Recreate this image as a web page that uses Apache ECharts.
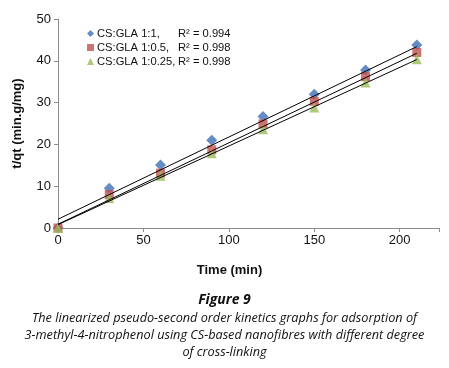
<!DOCTYPE html>
<html>
<head>
<meta charset="utf-8">
<script src="https://cdn.jsdelivr.net/npm/echarts@6/dist/echarts.min.js"></script>
<style>
  html, body { margin: 0; padding: 0; background: #fff; }
  #main { width: 449px; height: 368px; }
</style>
</head>
<body>
<div id="main"></div>
<script>
// time points (min)
var times = [0, 30, 60, 90, 120, 150, 180, 210];
// t/qt values
var gla1 = [0, 9.5, 15.1, 21.0, 26.7, 32.0, 37.8, 43.8];
var gla05 = [0, 8.0, 13.1, 18.7, 24.9, 30.3, 36.2, 42.0];
var gla025 = [0, 7.2, 12.5, 17.9, 23.6, 28.8, 34.8, 40.4];
// linear trend lines: [start, end]
var trend1 = [[0, 2.1], [210, 43.4]];
var trend05 = [[0, 0.9], [210, 41.8]];
var trend025 = [[0, 0.8], [210, 40.3]];
var names = ['CS:GLA 1:1', 'CS:GLA 1:0.5', 'CS:GLA 1:0.25'];
var r2 = ['0.994', '0.998', '0.998'];
var xTicks = [0, 50, 100, 150, 200];
var captionLines = [
    'The linearized pseudo-second order kinetics graphs for adsorption of',
    '3-methyl-4-nitrophenol using CS-based nanofibres with different degree',
    'of cross-linking'
];

function pairs(y) {
    return times.map(function (t, i) { return [t, y[i]]; });
}

var chart = echarts.init(document.getElementById('main'));

var graphics = [
    {
        type: 'text', left: 'center', top: 293,
        style: { text: 'Figure 9', font: 'italic bold 14px "Open Sans", sans-serif', fill: '#111' }
    }
];
captionLines.forEach(function (line, i) {
    graphics.push({
        type: 'text', left: 'center', top: 312 + i * 17,
        style: { text: line, font: 'italic 12.7px "Open Sans", sans-serif', fill: '#111' }
    });
});

var option = {
    animation: false,
    color: ['#3f70b6', '#c0504d', '#9bbb59'],
    textStyle: { fontFamily: 'Liberation Sans, Arial, sans-serif' },
    grid: { left: 58, right: 10, top: 19, bottom: 140 },
    legend: {
        orient: 'vertical',
        left: 82,
        top: 23,
        itemWidth: 7,
        itemHeight: 7,
        itemGap: 3,
        data: [
            { name: names[0], icon: 'diamond' },
            { name: names[1], icon: 'rect' },
            { name: names[2], icon: 'triangle' }
        ],
        formatter: function (n) {
            var i = names.indexOf(n);
            return '{a|' + n + ',}{b|R² = ' + r2[i] + '}';
        },
        textStyle: {
            fontSize: 11.2,
            color: '#111',
            padding: [0, 0, 0, -2],
            rich: {
                a: { width: 81, fontSize: 11.2, color: '#111' },
                b: { fontSize: 11.2, color: '#111' }
            }
        }
    },
    xAxis: {
        type: 'value',
        min: 0,
        max: 223,
        interval: 50,
        name: 'Time (min)',
        nameLocation: 'middle',
        nameGap: 36,
        nameTextStyle: { fontSize: 13, fontWeight: 'bold', color: '#111', padding: [0, 38, 0, 0] },
        axisLine: { lineStyle: { color: '#8c8c8c', width: 1 } },
        axisTick: { show: true, length: 4, lineStyle: { color: '#8c8c8c' } },
        axisLabel: {
            fontSize: 13,
            color: '#111',
            margin: 6,
            formatter: function (v) { return xTicks.indexOf(v) >= 0 ? v : ''; }
        },
        splitLine: { show: false }
    },
    yAxis: {
        type: 'value',
        min: 0,
        max: 50,
        interval: 10,
        name: 't/qt (min.g/mg)',
        nameLocation: 'middle',
        nameRotate: 90,
        nameGap: 34,
        nameTextStyle: { fontSize: 13, fontWeight: 'bold', color: '#111' },
        axisLine: { show: true, lineStyle: { color: '#8c8c8c', width: 1 } },
        axisTick: { show: true, length: 4, lineStyle: { color: '#8c8c8c' } },
        axisLabel: { fontSize: 13, color: '#111', margin: 7 },
        splitLine: { show: false }
    },
    series: [
        { name: names[0], type: 'scatter', symbol: 'diamond', symbolSize: 11, data: pairs(gla1), z: 2 },
        { name: names[1], type: 'scatter', symbol: 'rect', symbolSize: 9, data: pairs(gla05), z: 3 },
        { name: names[2], type: 'scatter', symbol: 'triangle', symbolSize: 10, data: pairs(gla025), z: 4 },
        { type: 'line', data: trend1, symbol: 'none', lineStyle: { color: '#000', width: 1 }, z: 5, silent: true },
        { type: 'line', data: trend05, symbol: 'none', lineStyle: { color: '#000', width: 1 }, z: 5, silent: true },
        { type: 'line', data: trend025, symbol: 'none', lineStyle: { color: '#000', width: 1 }, z: 5, silent: true }
    ],
    graphic: graphics
};

chart.setOption(option);
</script>
</body>
</html>
